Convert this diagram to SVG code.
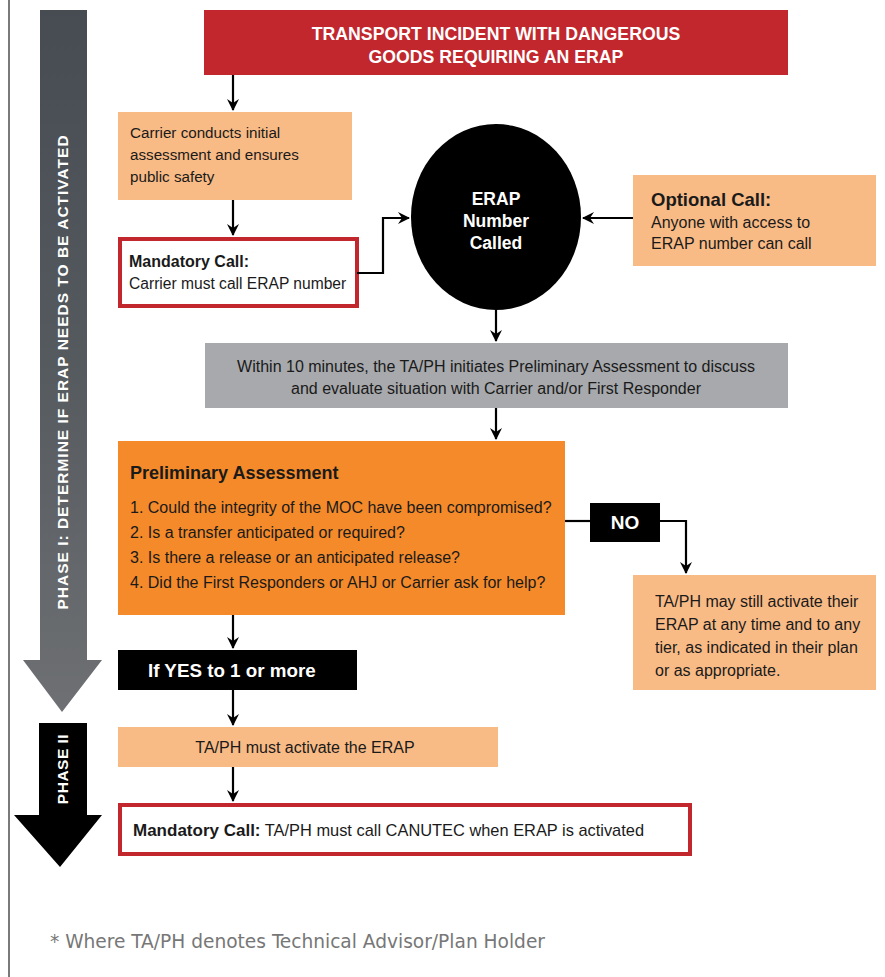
<svg xmlns="http://www.w3.org/2000/svg" width="885" height="977" viewBox="0 0 885 977">
<defs>
<linearGradient id="g1" x1="0" y1="0" x2="0" y2="1">
<stop offset="0" stop-color="#464c52"/>
<stop offset="0.5" stop-color="#555a5f"/>
<stop offset="1" stop-color="#6e7073"/>
</linearGradient>
<marker id="ah" viewBox="0 0 12 12" refX="11" refY="6" markerWidth="12" markerHeight="12" markerUnits="userSpaceOnUse" orient="auto">
<path d="M0,0 L12,6 L0,12 L4,6 Z" fill="#000"/>
</marker>
<style>
.t{font-family:"Liberation Sans",Arial,sans-serif;font-size:16px;fill:#1a1a1a}
.b{font-weight:bold}
.w{fill:#fff}
.peach{fill:#f9bb86}
.red{fill:#c1272d}
.mand{fill:#fff;stroke:#c1272d;stroke-width:4}
.c{fill:none;stroke:#000;stroke-width:2.2;marker-end:url(#ah)}
.l{fill:none;stroke:#000;stroke-width:2.2}
</style>
</defs>
<rect width="885" height="977" fill="#fff"/>
<line x1="9" y1="0" x2="9" y2="977" stroke="#7a7a7a" stroke-width="2"/>

<g id="phase1">
<path d="M40,10 H87 V660 H102 L62,712 L23,660 H40 Z" fill="url(#g1)"/>
<text class="t b w" style="font-size:15.5px" transform="translate(68,372) rotate(-90)" text-anchor="middle" letter-spacing="1">PHASE I: DETERMINE IF ERAP NEEDS TO BE ACTIVATED</text>
</g>
<g id="phase2">
<path d="M39,723 H87 V815 H102 L60,867 L14,815 H39 Z" fill="#000"/>
<text class="t b w" style="font-size:15.5px" transform="translate(68,769) rotate(-90)" text-anchor="middle" letter-spacing="0.5">PHASE II</text>
</g>

<g id="incident">
<rect x="204" y="10" width="584" height="65" class="red"/>
<text class="t b w" style="font-size:17.7px" x="496" y="40" text-anchor="middle">TRANSPORT INCIDENT WITH DANGEROUS</text>
<text class="t b w" style="font-size:17.7px" x="496" y="63" text-anchor="middle">GOODS REQUIRING AN ERAP</text>
</g>

<g id="carrier">
<rect x="118" y="112" width="234" height="88" class="peach"/>
<text class="t" style="font-size:15.2px" x="130" y="138">Carrier conducts initial</text>
<text class="t" style="font-size:15.2px" x="130" y="160">assessment and ensures</text>
<text class="t" style="font-size:15.2px" x="130" y="182">public safety</text>
</g>

<g id="mandatory1">
<rect x="120" y="239" width="237" height="67" class="mand"/>
<text class="t b" style="font-size:16px" x="129" y="267">Mandatory Call:</text>
<text class="t" style="font-size:15.6px" x="129" y="289">Carrier must call ERAP number</text>
</g>

<g id="erap">
<ellipse cx="496" cy="217" rx="85" ry="93" fill="#000"/>
<text class="t b w" style="font-size:17.5px" x="496" y="205" text-anchor="middle">ERAP</text>
<text class="t b w" style="font-size:17.5px" x="496" y="227" text-anchor="middle">Number</text>
<text class="t b w" style="font-size:17.5px" x="496" y="249" text-anchor="middle">Called</text>
</g>

<g id="optional">
<rect x="633" y="175" width="243" height="91" class="peach"/>
<text class="t b" style="font-size:18.5px" x="651" y="206">Optional Call:</text>
<text class="t" x="651" y="228">Anyone with access to</text>
<text class="t" x="651" y="249">ERAP number can call</text>
</g>

<g id="within">
<rect x="205" y="343" width="583" height="65" fill="#a7a9ac"/>
<text class="t" x="496" y="372" text-anchor="middle">Within 10 minutes, the TA/PH initiates Preliminary Assessment to discuss</text>
<text class="t" x="496" y="394" text-anchor="middle">and evaluate situation with Carrier and/or First Responder</text>
</g>

<g id="prelim">
<rect x="118" y="441" width="447" height="174" fill="#f58a2a"/>
<text class="t b" style="font-size:18px" x="130" y="479">Preliminary Assessment</text>
<text class="t" x="130" y="513">1. Could the integrity of the MOC have been compromised?</text>
<text class="t" x="130" y="538">2. Is a transfer anticipated or required?</text>
<text class="t" x="130" y="563">3. Is there a release or an anticipated release?</text>
<text class="t" x="130" y="588">4. Did the First Responders or AHJ or Carrier ask for help?</text>
</g>

<g id="no">
<rect x="590" y="503" width="70" height="39" fill="#000"/>
<text class="t b w" style="font-size:19px" x="625" y="529" text-anchor="middle">NO</text>
</g>

<g id="maystill">
<rect x="633" y="575" width="243" height="115" class="peach"/>
<text class="t" x="655" y="607">TA/PH may still activate their</text>
<text class="t" x="655" y="630">ERAP at any time and to any</text>
<text class="t" x="655" y="653">tier, as indicated in their plan</text>
<text class="t" x="655" y="676">or as appropriate.</text>
</g>

<g id="ifyes">
<rect x="118" y="650" width="239" height="40" fill="#000"/>
<text class="t b w" style="font-size:18.8px" x="148" y="677">If YES to 1 or more</text>
</g>

<g id="activate">
<rect x="118" y="727" width="380" height="40" class="peach"/>
<text class="t" x="305" y="753" text-anchor="middle">TA/PH must activate the ERAP</text>
</g>

<g id="mandatory2">
<rect x="120" y="805" width="570" height="49" class="mand"/>
<text class="t" style="font-size:16.4px" x="133" y="836"><tspan class="b" style="font-size:17px">Mandatory Call:</tspan> TA/PH must call CANUTEC when ERAP is activated</text>
</g>

<g id="connectors">
<path class="c" d="M233,75 V110"/>
<path class="c" d="M233,200 V235"/>
<path class="c" d="M357,273 H383 V218 H409"/>
<path class="c" d="M633,218 H583"/>
<path class="c" d="M496,310 V341"/>
<path class="c" d="M496,408 V439"/>
<path class="l" d="M565,521 H590"/>
<path class="c" d="M660,521 H686 V573"/>
<path class="c" d="M233,615 V648"/>
<path class="c" d="M233,690 V725"/>
<path class="c" d="M233,767 V801"/>
</g>

<text x="50" y="948" font-family="'Liberation Sans Narrow','DejaVu Sans Condensed','Liberation Sans',sans-serif" font-size="19" fill="#777" textLength="495" lengthAdjust="spacingAndGlyphs">* Where TA/PH denotes Technical Advisor/Plan Holder</text>
</svg>
